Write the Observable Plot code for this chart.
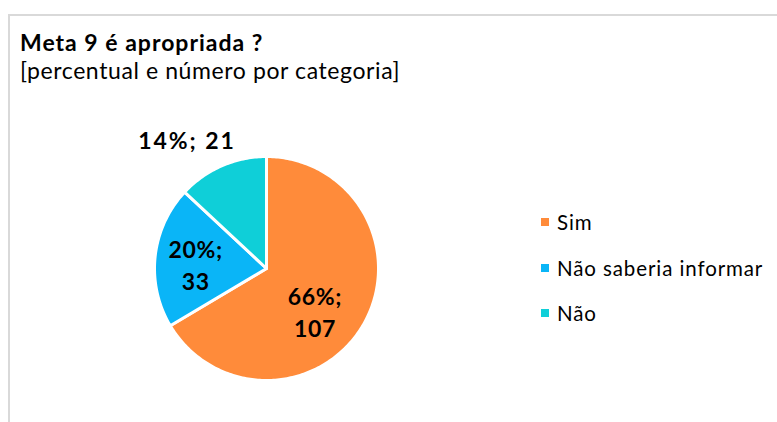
<!DOCTYPE html>
<html><head><meta charset="utf-8">
<script src="https://cdn.jsdelivr.net/npm/d3@7"></script>
<script src="https://cdn.jsdelivr.net/npm/@observablehq/plot@0.6"></script>
<style>
body{margin:0;background:#fff;font-family:Lato,"Open Sans",sans-serif;}
#wrap{position:relative;width:777px;height:422px;overflow:hidden;}
#frame{position:absolute;left:8px;top:14px;width:820px;height:460px;border-left:2px solid #d9d9d9;border-top:2px solid #d9d9d9;}
#title{position:absolute;left:20px;top:30.5px;line-height:1;font-weight:bold;font-size:23px;letter-spacing:1px;color:#000;white-space:nowrap;}
#subtitle{position:absolute;left:20px;top:58.5px;line-height:1;font-size:23px;letter-spacing:0.6px;color:#000;white-space:nowrap;}
#chart{position:absolute;left:0;top:0;}
.leg{position:absolute;left:541px;font-size:20.5px;letter-spacing:0.9px;color:#000;white-space:nowrap;display:flex;align-items:center;}
.leg span.sw{display:inline-block;width:8px;height:8px;margin-right:8px;}
</style></head>
<body>
<div id="wrap">
  <div id="frame"></div>
  <div id="title">Meta 9 é apropriada ?</div>
  <div id="subtitle">[percentual e número por categoria]</div>
  <div id="chart"></div>
  <div id="legend"></div>
</div>
<script>
const categories = ["Sim", "Não saberia informar", "Não"];
const counts = [107, 33, 21];
const percents = ["66%", "20%", "14%"];
const colors = ["#FF8B3A", "#0AB5F7", "#0FCFD8"];

// layout
const W = 777, H = 422, cx = 266, cy = 268, R = 112;
const data = categories.map((c, i) => ({cat: c, count: counts[i], pct: percents[i], i}));
const arcs = d3.pie().sort(null).value(d => d.count)(data);

const poly = [];
for (const a of arcs) {
  poly.push({cat: a.data.cat, x: cx, y: cy});
  const n = Math.max(2, Math.ceil((a.endAngle - a.startAngle) / (Math.PI / 180)));
  for (let k = 0; k <= n; k++) {
    const t = a.startAngle + (a.endAngle - a.startAngle) * k / n;
    poly.push({cat: a.data.cat, x: cx + R * Math.sin(t), y: cy - R * Math.cos(t)});
  }
}

// label placement: inside labels at 0.6R, outside label at 1.3R, with small nudges
const labelCfg = [
  {rf: 0.6, dx: -10, dy: 9, ls: 0.6, text: d => `${d.pct};\n${d.count}`},
  {rf: 0.6, dx: -4, dy: 2, ls: 0.6, text: d => `${d.pct};\n${d.count}`},
  {rf: 1.3, dx: -21.5, dy: 4, ls: 1.9, text: d => `${d.pct}; ${d.count}`}
];
const labels = arcs.map((a, i) => {
  const m = (a.startAngle + a.endAngle) / 2, cfg = labelCfg[i];
  return {x: cx + R * cfg.rf * Math.sin(m) + cfg.dx, y: cy - R * cfg.rf * Math.cos(m) + cfg.dy, label: cfg.text(a.data), ls: cfg.ls};
});

const plot = Plot.plot({
  width: W, height: H,
  margin: 0,
  x: {domain: [0, W], range: [0, W], axis: null},
  y: {domain: [0, H], range: [0, H], axis: null},
  color: {domain: categories, range: colors},
  style: {fontFamily: "Lato, 'Open Sans', sans-serif", background: "transparent"},
  marks: [
    Plot.line(poly, {x: "x", y: "y", z: "cat", fill: "cat", stroke: "white", strokeWidth: 3, curve: "linear-closed"}),
    Plot.text(labels, {x: "x", y: "y", text: "label", fontSize: 23, fontWeight: "bold", fill: "black", lineAnchor: "middle", lineHeight: 1.4, className: "dlab"})
  ]
});
plot.querySelectorAll(".dlab text").forEach((t, i) => t.style.letterSpacing = labels[i].ls + "px");
document.getElementById("chart").appendChild(plot);

const legY = [222, 268, 313];
const leg = document.getElementById("legend");
categories.forEach((c, i) => {
  const d = document.createElement("div");
  d.className = "leg";
  d.style.top = (legY[i] - 12) + "px";
  d.style.height = "24px";
  d.innerHTML = `<span class="sw" style="background:${colors[i]}"></span>${c}`;
  leg.appendChild(d);
});
</script>
</body></html>
